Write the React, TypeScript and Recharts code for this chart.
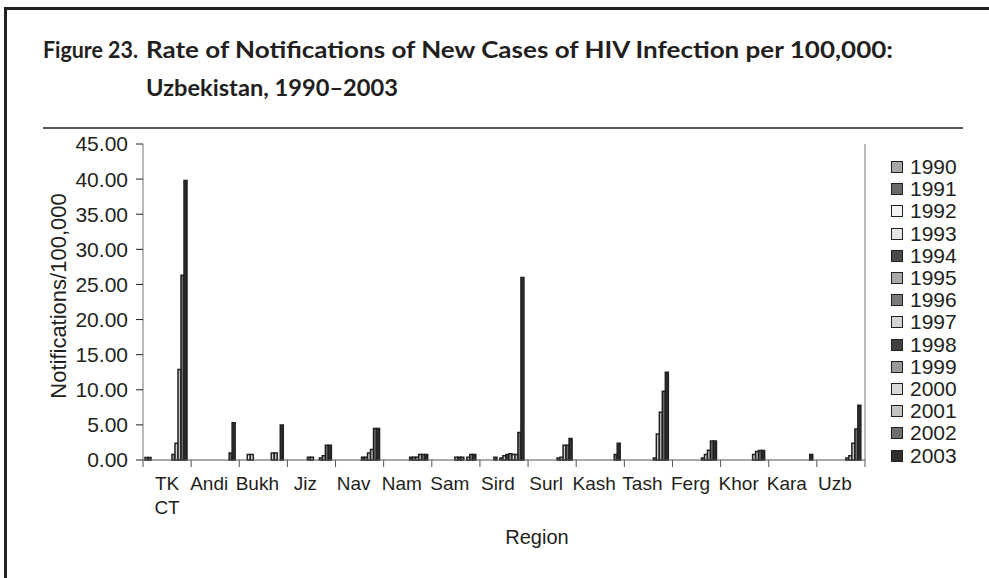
import React from 'react';
import { BarChart, Bar, XAxis, YAxis, Label } from 'recharts';

const regions = ['TK CT', 'Andi', 'Bukh', 'Jiz', 'Nav', 'Nam', 'Sam', 'Sird', 'Surl', 'Kash', 'Tash', 'Ferg', 'Khor', 'Kara', 'Uzb'];
const years = ['1990', '1991', '1992', '1993', '1994', '1995', '1996', '1997', '1998', '1999', '2000', '2001', '2002', '2003'];
const yearColors = ['#a8a8a8', '#6a6a6a', '#f4f4f4', '#e6e6e6', '#4a4a4a', '#a8a8a8', '#7a7a7a', '#d4d4d4', '#404040', '#9a9a9a', '#d8d8d8', '#c4c4c4', '#6e6e6e', '#2e2e2e'];
const yTicks = [0, 5, 10, 15, 20, 25, 30, 35, 40, 45];

// per year, in region order:  TK CT, Andi, Bukh, Jiz, Nav, Nam, Sam, Sird, Surl, Kash, Tash, Ferg, Khor, Kara, Uzb
const r1990 = [0.35, 0, 0, 0, 0, 0, 0, 0, 0, 0, 0, 0, 0, 0, 0];
const r1991 = [0.35, 0, 0, 0, 0, 0, 0, 0, 0, 0, 0, 0, 0, 0, 0];
const r1992 = [0, 0, 0.8, 0, 0, 0, 0, 0, 0, 0, 0, 0, 0, 0, 0];
const r1993 = [0, 0, 0.8, 0, 0, 0, 0, 0, 0, 0, 0, 0, 0, 0, 0];
const r1994 = [0, 0, 0, 0, 0, 0, 0, 0.4, 0, 0, 0, 0, 0, 0, 0];
const r1995 = [0, 0, 0, 0, 0, 0, 0, 0, 0, 0, 0, 0, 0, 0, 0];
const r1996 = [0, 0, 0, 0.4, 0, 0, 0, 0.3, 0, 0, 0, 0, 0, 0, 0];
const r1997 = [0, 0, 0, 0.4, 0, 0, 0.4, 0.6, 0, 0, 0, 0, 0, 0, 0];
const r1998 = [0, 0, 0, 0, 0.4, 0.4, 0.4, 0.8, 0, 0, 0, 0, 0, 0, 0];
const r1999 = [0.8, 0, 0, 0, 0.4, 0.4, 0.4, 0.9, 0.3, 0, 0.3, 0.3, 0, 0, 0.3];
const r2000 = [2.4, 0, 1.0, 0.3, 1.0, 0.4, 0, 0.8, 0.4, 0, 3.7, 0.8, 0.8, 0, 0.6];
const r2001 = [12.9, 0, 1.0, 0.6, 1.5, 0.8, 0.4, 0.8, 2.1, 0, 6.8, 1.4, 1.2, 0, 2.4];
const r2002 = [26.3, 1.0, 0, 2.1, 4.5, 0.8, 0.8, 3.9, 2.1, 0.8, 9.8, 2.7, 1.35, 0, 4.4];
const r2003 = [39.8, 5.3, 5.0, 2.1, 4.5, 0.8, 0.8, 26.0, 3.05, 2.4, 12.5, 2.7, 1.35, 0.8, 7.8];

const series = [r1990, r1991, r1992, r1993, r1994, r1995, r1996, r1997, r1998, r1999, r2000, r2001, r2002, r2003];

const data = regions.map((name, i) => {
  const row: Record<string, string | number> = { name };
  years.forEach((yr, k) => {
    row['y' + yr] = series[k][i];
  });
  return row;
});

const INK = '#231f20';
const FONT = '"Liberation Sans", Arial, sans-serif';
const W = 989;
const H = 578;
const M_LEFT = 143;
const M_RIGHT = 124;
const HALF_BAND = (W - M_LEFT - M_RIGHT) / regions.length / 2;

const RegionTick = (props: any) => {
  const { x, y, payload, index } = props;
  const lines = String(payload.value).split(' ');
  // labels sit a little left of the band centre in the original
  const tx = index === 0 ? x : x - 6;
  return (
    <g>
      <line x1={x - HALF_BAND} x2={x - HALF_BAND} y1={y} y2={y + 7} stroke="#555" />
      {index === regions.length - 1 && <line x1={x + HALF_BAND} x2={x + HALF_BAND} y1={y} y2={y + 7} stroke="#555" />}
      <text x={tx} y={y + 30} textAnchor="middle" fontSize={19} fontFamily={FONT} fill={INK}>
        {lines.map((l, i) => (
          <tspan key={i} x={tx} dy={i === 0 ? 0 : 24}>{l}</tspan>
        ))}
      </text>
    </g>
  );
};

const App: React.FC = () => {
  return (
    <div style={{ position: 'absolute', left: 0, top: 0, width: W, height: H, background: '#fff', overflow: 'hidden' }}>
      {/* frame */}
      <div style={{ position: 'absolute', left: 4, top: 7, width: W - 4, height: 3, background: INK }} />
      <div style={{ position: 'absolute', left: 4, top: 7, width: 3, height: H - 7, background: INK }} />

      <svg width={W} height={135} style={{ position: 'absolute', left: 0, top: 0 }}>
        <g fontFamily="Lato, 'Open Sans', sans-serif" fontWeight={700} fontSize={22} fill={INK}>
          <text x={43} y={58} textLength={95} lengthAdjust="spacingAndGlyphs">Figure 23.</text>
          <text x={146} y={58} textLength={747} lengthAdjust="spacingAndGlyphs">
            Rate of Notifications of New Cases of HIV Infection per 100,000:
          </text>
          <text x={146} y={96} textLength={252} lengthAdjust="spacingAndGlyphs">Uzbekistan, 1990–2003</text>
        </g>
        <line x1={43} x2={963} y1={128} y2={128} stroke={INK} strokeWidth={1.5} />
      </svg>

      <div style={{ position: 'absolute', left: 0, top: 0 }}>
        <BarChart
          width={W}
          height={H}
          data={data}
          margin={{ top: 144, right: M_RIGHT - 1, bottom: 1, left: 0 }}
          barGap={0}
          barCategoryGap={2}
        >
          <XAxis
            dataKey="name"
            interval={0}
            height={117}
            tickLine={false}
            tickSize={0}
            tickMargin={0}
            tick={<RegionTick />}
            axisLine={{ stroke: '#555' }}
          >
            <Label
              content={(p: any) => {
                const vb = p.viewBox;
                return (
                  <text x={537} y={vb.y + 84} textAnchor="middle" fontSize={20} fontFamily={FONT} fill={INK}>
                    Region
                  </text>
                );
              }}
            />
          </XAxis>
          <YAxis
            width={M_LEFT}
            domain={[0, 45]}
            ticks={yTicks}
            interval={0}
            tickFormatter={(v: number) => v.toFixed(2)}
            tickSize={7}
            tickMargin={8}
            tick={{ fontSize: 21, fontFamily: FONT, fill: INK }}
            tickLine={{ stroke: INK }}
            axisLine={{ stroke: '#777' }}
          >
            <Label
              content={(p: any) => {
                const vb = p.viewBox;
                const cx = vb.x + 58;
                const cy = vb.y + vb.height / 2 - 6;
                return (
                  <text x={cx} y={cy} transform={`rotate(-90 ${cx} ${cy})`} textAnchor="middle" dominantBaseline="central" fontSize={22} fontFamily={FONT} fill={INK}>
                    Notifications/100,000
                  </text>
                );
              }}
            />
          </YAxis>
          <YAxis yAxisId="right" orientation="right" width={1} domain={[0, 45]} tick={false} tickLine={false} axisLine={{ stroke: '#777' }} />
          {years.map((yr, k) => (
            <Bar
              key={yr}
              dataKey={'y' + yr}
              name={yr}
              fill={yearColors[k]}
              stroke={INK}
              strokeWidth={1.5}
              isAnimationActive={false}
            />
          ))}
        </BarChart>
      </div>

      {/* legend */}
      <div style={{ position: 'absolute', left: 891, top: 156, fontFamily: FONT, fontSize: 21, color: INK }}>
        {years.map((yr, k) => (
          <div key={yr} style={{ display: 'flex', alignItems: 'center', height: 22.2 }}>
            <span style={{ display: 'inline-block', width: 10, height: 10, border: `1.5px solid ${INK}`, background: yearColors[k], marginRight: 7 }} />
            <span style={{ lineHeight: '22px' }}>{yr}</span>
          </div>
        ))}
      </div>
    </div>
  );
};

export default App;
